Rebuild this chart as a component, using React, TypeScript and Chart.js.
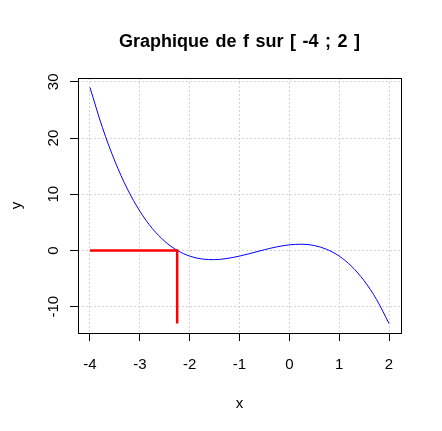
import React, { useEffect, useRef } from "react";
import { Chart, registerables } from "chart.js";

Chart.register(...registerables);

// Curve of f on [-4 ; 2]
const xValues = [-4, -3.75, -3.5, -3.25, -3, -2.75, -2.5, -2.25, -2, -1.75, -1.5, -1.25, -1, -0.75, -0.5, -0.25, 0, 0.25, 0.5, 0.75, 1, 1.25, 1.5, 1.75, 2];
const yValues = [29, 21.86, 15.88, 10.95, 7, 3.92, 1.63, 0.02, -1, -1.52, -1.63, -1.42, -1, -0.45, 0.13, 0.64, 1, 1.11, 0.88, 0.2, -1, -2.83, -5.38, -8.73, -13];

// Red construction lines (root of f)
const redX = [-4, -2.25, -2.25];
const redY = [0, 0, -13];

// Axis ticks
const xTicks = [-4, -3, -2, -1, 0, 1, 2];
const yTicks = [-10, 0, 10, 20, 30];
const xRange = [-4.24, 2.24];
const yRange = [-14.68, 30.68];

const titleText = "Graphique de f sur [ -4 ; 2 ]";
const xTitle = "x";
const yTitle = "y";

const FONT = '"Liberation Sans", Arial, sans-serif';

const rPlugin = {
  id: "rStyle",
  afterDraw(chart: any) {
    const { ctx, chartArea: a, scales } = chart;
    ctx.save();
    ctx.strokeStyle = "#000";
    ctx.lineWidth = 1;
    ctx.setLineDash([]);
    const l = Math.round(a.left) + 0.5;
    const t = Math.round(a.top) + 0.5;
    const r = Math.round(a.right) + 0.5;
    const b = Math.round(a.bottom) + 0.5;
    ctx.strokeRect(l, t, r - l, b - t);

    // y tick labels, rotated like R (las = 0)
    ctx.fillStyle = "#000";
    ctx.font = `15px ${FONT}`;
    ctx.textAlign = "center";
    ctx.textBaseline = "alphabetic";
    yTicks.forEach((v) => {
      const py = scales.y.getPixelForValue(v);
      ctx.save();
      ctx.translate(58, py);
      ctx.rotate(-Math.PI / 2);
      ctx.fillText(String(v), 0, 0);
      ctx.restore();
    });

    // main title
    ctx.font = `bold 18px ${FONT}`;
    try {
      (ctx as any).wordSpacing = "1.5px";
    } catch (e) {}
    ctx.textAlign = "center";
    ctx.fillText(titleText, (a.left + a.right) / 2, 47);
    ctx.restore();
  },
};

export default function App() {
  const ref = useRef<HTMLCanvasElement | null>(null);

  useEffect(() => {
    if (!ref.current) return;
    const chart = new Chart(ref.current, {
      type: "line",
      data: {
        datasets: [
          {
            label: "f",
            data: xValues.map((x, i) => ({ x, y: yValues[i] })),
            borderColor: "#0000ff",
            borderWidth: 1,
            pointRadius: 0,
            cubicInterpolationMode: "monotone",
            fill: false,
            order: 2,
          },
          {
            label: "root",
            data: redX.map((x, i) => ({ x, y: redY[i] })),
            borderColor: "#ff0000",
            borderWidth: 2.5,
            pointRadius: 0,
            tension: 0,
            fill: false,
            order: 1,
          },
        ],
      },
      options: {
        responsive: false,
        animation: false,
        devicePixelRatio: 1,
        layout: { padding: { top: 78, right: 41, left: 0, bottom: 0 } },
        plugins: {
          legend: { display: false },
          title: { display: false },
          tooltip: { enabled: false },
        },
        scales: {
          x: {
            type: "linear",
            min: xRange[0],
            max: xRange[1],
            afterBuildTicks: (s: any) => {
              s.ticks = xTicks.map((v) => ({ value: v }));
            },
            afterFit: (s: any) => {
              s.height = 98;
            },
            grid: {
              color: "#d3d3d3",
              lineWidth: 1,
              borderDash: [2, 2],
              drawTicks: true,
              tickLength: 8,
              tickColor: "#000",
              tickWidth: 1,
              tickBorderDash: [],
            },
            border: { display: false, dash: [2, 2] },
            ticks: {
              color: "#000",
              font: { family: FONT, size: 15 },
              padding: 15,
              maxRotation: 0,
              minRotation: 0,
              autoSkip: false,
              callback: (v: any) => String(v),
            },
            title: {
              display: true,
              text: xTitle,
              color: "#000",
              font: { family: FONT, size: 15 },
              padding: { top: 0, bottom: 18 },
            },
          },
          y: {
            type: "linear",
            min: yRange[0],
            max: yRange[1],
            afterBuildTicks: (s: any) => {
              s.ticks = yTicks.map((v) => ({ value: v }));
            },
            afterFit: (s: any) => {
              s.width = 78;
            },
            grid: {
              color: "#d3d3d3",
              lineWidth: 1,
              borderDash: [2, 2],
              drawTicks: true,
              tickLength: 8,
              tickColor: "#000",
              tickWidth: 1,
              tickBorderDash: [],
            },
            border: { display: false, dash: [2, 2] },
            ticks: { display: false },
            title: {
              display: true,
              text: yTitle,
              color: "#000",
              font: { family: FONT, size: 15 },
              padding: { top: 8, bottom: 0 },
            },
          },
        },
      },
      plugins: [rPlugin],
    } as any);
    return () => chart.destroy();
  }, []);

  return (
    <div style={{ position: "absolute", left: 0, top: 0, width: 442, height: 431, background: "#fff" }}>
      <canvas ref={ref} width={442} height={431} style={{ display: "block" }} />
    </div>
  );
}
